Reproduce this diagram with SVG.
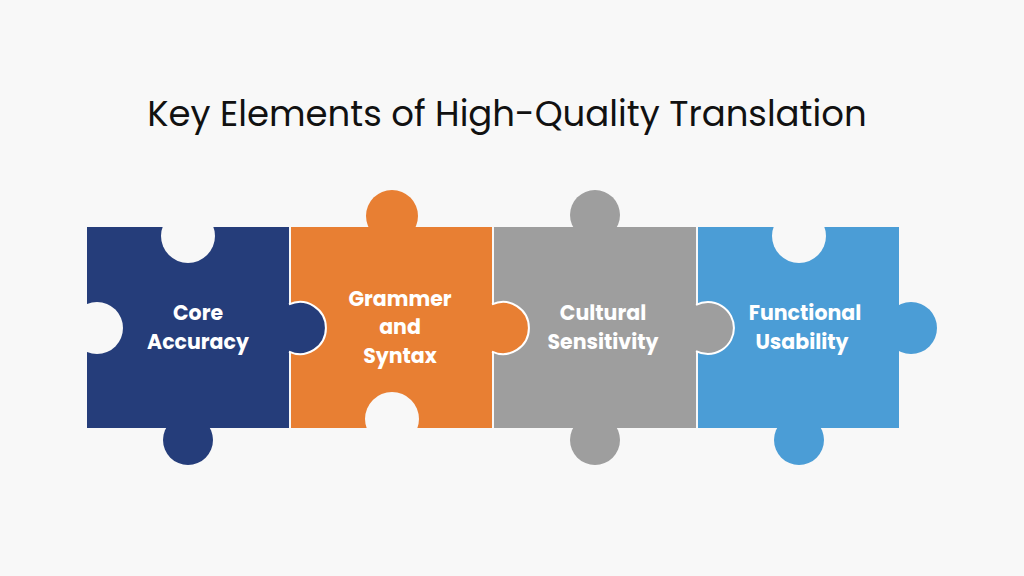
<svg xmlns="http://www.w3.org/2000/svg" width="1024" height="576" viewBox="0 0 1024 576">
<style>
.t{font-family:Poppins,"Open Sans","Liberation Sans",sans-serif;font-weight:700;font-size:20.5px;fill:#fff;text-anchor:middle}
.h{fill:#f8f8f8}
.s{stroke:#fff;stroke-width:2}
</style>
<rect width="1024" height="576" fill="#f8f8f8"/>
<text x="507" y="126" font-family="Poppins,'Open Sans','Liberation Sans',sans-serif" font-size="35.5" fill="#111" text-anchor="middle">Key Elements of High-Quality Translation</text>
<g id="n1">
<circle cx="188" cy="440" r="25" fill="#253d7a"/>
<rect x="87" y="227" width="202" height="201" fill="#253d7a"/>
<circle class="h" cx="188" cy="236" r="27"/>
<circle class="h" cx="97" cy="328" r="26"/>
</g>
<g id="n2">
<circle cx="392" cy="216" r="26" fill="#e87f33"/>
<rect x="291" y="227" width="201" height="201" fill="#e87f33"/>
<circle class="h" cx="392" cy="419" r="27"/>
</g>
<g id="n3">
<circle cx="595" cy="215" r="25" fill="#9e9e9e"/>
<circle cx="595" cy="440" r="25" fill="#9e9e9e"/>
<rect x="494" y="227" width="202" height="201" fill="#9e9e9e"/>
</g>
<g id="n4">
<circle cx="799" cy="440" r="25" fill="#4b9dd6"/>
<circle cx="911" cy="328" r="26" fill="#4b9dd6"/>
<rect x="698" y="227" width="201" height="201" fill="#4b9dd6"/>
<circle class="h" cx="799" cy="236" r="27"/>
</g>
<g id="tabs">
<path class="s" d="M289,304.4 A26,26 0 1 1 289,351.6" fill="#253d7a"/>
<path class="s" d="M492,304.4 A26,26 0 1 1 492,351.6" fill="#e87f33"/>
<path class="s" d="M696,304.9 A26,26 0 1 1 696,351.1" fill="#9e9e9e"/>
</g>
<text class="t" x="198" y="320">Core</text>
<text class="t" x="198" y="349">Accuracy</text>
<text class="t" x="400" y="306">Grammer</text>
<text class="t" x="400" y="334">and</text>
<text class="t" x="400" y="363">Syntax</text>
<text class="t" x="603" y="320">Cultural</text>
<text class="t" x="603" y="349">Sensitivity</text>
<text class="t" x="805" y="320">Functional</text>
<text class="t" x="802" y="349">Usability</text>
</svg>
